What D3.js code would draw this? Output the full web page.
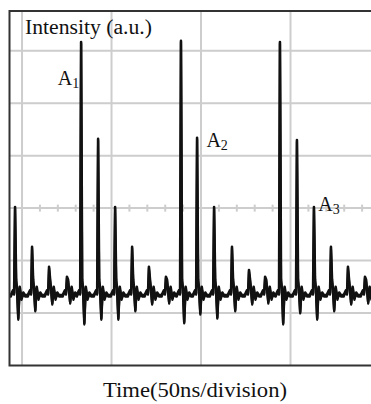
<!DOCTYPE html>
<html>
<head>
<meta charset="utf-8">
<script src="https://cdn.jsdelivr.net/npm/d3@7"></script>
<style>
  html, body { margin: 0; padding: 0; background: #fff; }
  svg { display: block; }
</style>
</head>
<body>
<svg id="chart" width="371" height="404"></svg>
<script>
// ---- data ----
const timeGridNs = [0, 50, 100, 150, 200];          // major divisions, 50 ns each
const minorTickNs = [10, 20, 30, 40, 60, 70, 80, 90, 110, 120, 130, 140, 160, 170, 180, 190];
const intensityGrid = [1, 2, 3, 4, 5, 6];           // vertical divisions (a.u.)
const baselineLevel = 1.34;
// pulse train: time (ns), peak level, undershoot level
const pulseTime = [-3.9, 5.6, 15.1, 25.1, 33.0, 42.5, 52.0, 61.5, 70.9, 80.4,
                   88.8, 97.8, 107.3, 117.3, 126.8, 135.8, 144.1, 153.6, 163.1, 172.6, 182.1, 191.6];
const pulsePeak = [3.02, 2.26, 1.88, 1.69, 6.17, 4.32, 3.02, 2.26, 1.88, 1.69,
                   6.19, 4.34, 3.02, 2.26, 1.82, 1.69, 6.17, 4.30, 3.02, 2.26, 1.88, 1.69];
const pulseDip  = [0.90, 1.06, 1.19, 1.21, 0.81, 0.90, 0.90, 1.06, 1.19, 1.21,
                   0.83, 1.00, 0.92, 1.06, 1.19, 1.21, 0.81, 1.02, 0.90, 1.06, 1.19, 1.21];
const peakLabels = [
  {name: "A", sub: "1", t: 20.0, v: 5.35},
  {name: "A", sub: "2", t: 103.0, v: 4.16},
  {name: "A", sub: "3", t: 165.5, v: 2.95}
];
const yTitle = "Intensity (a.u.)";
const xTitle = "Time(50ns/division)";

// ---- drawing ----
const svg = d3.select("#chart");
const x = d3.scaleLinear().domain([-7, 200]).range([9.5, 380]);
const y = d3.scaleLinear().domain([0, 6.76]).range([365.4, 11]);
const pLeft = x(-7), pRight = x(200), pTop = y(6.76), pBottom = y(0);

svg.append("defs").append("clipPath").attr("id", "plotclip")
  .append("rect").attr("x", pLeft).attr("y", pTop).attr("width", pRight - pLeft).attr("height", pBottom - pTop);

const grid = svg.append("g").attr("stroke", "#cdcdcd").attr("stroke-width", 2);
grid.selectAll("line.v").data(timeGridNs).join("line").attr("class", "v")
  .attr("x1", d => x(d)).attr("x2", d => x(d)).attr("y1", pTop).attr("y2", pBottom);
grid.selectAll("line.h").data(intensityGrid).join("line").attr("class", "h")
  .attr("x1", pLeft).attr("x2", pRight).attr("y1", d => y(d)).attr("y2", d => y(d));
grid.selectAll("line.m").data(minorTickNs).join("line").attr("class", "m")
  .attr("x1", d => x(d)).attr("x2", d => x(d)).attr("y1", y(3) - 3.5).attr("y2", y(3) + 3.5);

// trace built from the pulse list
const pts = [[-7, baselineLevel]];
pulseTime.forEach((t, i) => {
  const b = baselineLevel, p = pulsePeak[i], m = pulseDip[i];
  pts.push([t - 2.4, b], [t - 1.2, b + 0.09], [t - 0.5, b + 0.04], [t, p],
           [t + 0.6, b + 0.3], [t + 1.1, b + 0.12], [t + 1.8, m],
           [t + 2.6, b + 0.16], [t + 3.6, b - 0.06], [t + 4.6, b + 0.05], [t + 5.6, b]);
});
pts.push([200, baselineLevel]);

const line = d3.line().x(d => x(d[0])).y(d => y(d[1]));
svg.append("path").attr("clip-path", "url(#plotclip)")
  .attr("d", line(pts)).attr("fill", "none").attr("stroke", "#111")
  .attr("stroke-width", 2.6).attr("stroke-linejoin", "round");
svg.append("path").attr("clip-path", "url(#plotclip)")
  .attr("d", line(pts)).attr("fill", "none").attr("stroke", "#111")
  .attr("stroke-width", 2.2).attr("stroke-linejoin", "round")
  .attr("transform", "translate(0,1.6)");

// frame (left, top, bottom; right side cut off by the picture)
svg.append("path")
  .attr("d", `M${pRight},${pTop} H${pLeft} V${pBottom} H${pRight}`)
  .attr("fill", "none").attr("stroke", "#333").attr("stroke-width", 2);

const font = "'Liberation Serif', 'Times New Roman', serif";
svg.append("text").attr("x", 25).attr("y", 34).attr("font-family", font)
  .attr("font-size", 20).attr("fill", "#111")
  .attr("textLength", 127).attr("lengthAdjust", "spacingAndGlyphs").text(yTitle);
svg.append("text").attr("x", 195).attr("y", 397).attr("text-anchor", "middle")
  .attr("font-family", font).attr("font-size", 20).attr("fill", "#111")
  .attr("textLength", 184).attr("lengthAdjust", "spacingAndGlyphs").text(xTitle);

peakLabels.forEach(l => {
  const t = svg.append("text").attr("x", x(l.t)).attr("y", y(l.v))
    .attr("font-family", font).attr("font-size", 20).attr("fill", "#111");
  t.append("tspan").text(l.name);
  t.append("tspan").attr("font-size", 14).attr("dy", 3).text(l.sub);
});
</script>
</body>
</html>
